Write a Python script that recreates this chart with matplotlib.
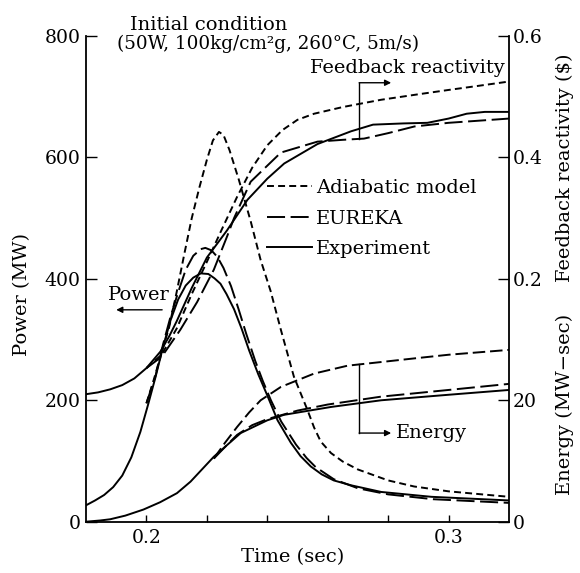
import matplotlib
matplotlib.use("Agg")
import matplotlib.pyplot as plt

plt.rcParams["font.family"] = ["DejaVu Serif", "DejaVu Sans"]
plt.rcParams["lines.scale_dashes"] = False

# ---- power (MW) ----
exp_power_t = [0.180, 0.183, 0.186, 0.189, 0.192, 0.195, 0.198, 0.2005, 0.203, 0.2055,
               0.208, 0.2105, 0.213, 0.2155, 0.218, 0.2205, 0.2225, 0.2245, 0.2265, 0.229,
               0.2315, 0.234, 0.237, 0.240, 0.2434, 0.2478, 0.251, 0.2544, 0.258, 0.262,
               0.2677, 0.2777, 0.2943, 0.320]
exp_power = [27, 35, 44, 57, 76, 106, 148, 192, 238, 288,
             332, 366, 389, 402, 409, 408, 401, 392, 375, 350,
             318, 282, 243, 208, 167, 130, 108, 91, 78, 68,
             60, 49, 41, 35]

eur_power_t = [0.200, 0.203, 0.2055, 0.208, 0.2105, 0.213, 0.2155, 0.218, 0.2195, 0.2215,
               0.2235, 0.2255, 0.228, 0.2305, 0.233, 0.236, 0.2385, 0.2412, 0.2446, 0.2495,
               0.253, 0.256, 0.262, 0.270, 0.280, 0.295, 0.320]
eur_power = [195, 240, 292, 338, 378, 415, 438, 449, 451, 447,
             436, 418, 388, 350, 310, 265, 232, 200, 165, 127,
             105, 90, 70, 55, 45, 37, 31]

adi_power_t = [0.200, 0.2025, 0.205, 0.2075, 0.210, 0.2125, 0.215, 0.2175, 0.220, 0.222,
               0.224, 0.2255, 0.2275, 0.2306, 0.2345, 0.2378, 0.2411, 0.2445, 0.2488, 0.2533,
               0.2555, 0.2577, 0.2611, 0.265, 0.270, 0.280, 0.2886, 0.300, 0.320]
adi_power = [195, 235, 278, 320, 378, 440, 500, 550, 596, 628,
             642, 637, 612, 563, 495, 431, 380, 316, 239, 184,
             155, 132, 113, 99, 86, 68, 58, 50, 41]

# ---- feedback reactivity ($) ----
exp_react_t = [0.180, 0.184, 0.188, 0.192, 0.196, 0.200, 0.2046, 0.2075, 0.210, 0.215,
               0.220, 0.2267, 0.2334, 0.240, 0.2456, 0.2511, 0.2566, 0.2677, 0.275, 0.285,
               0.293, 0.300, 0.306, 0.312, 0.320]
exp_react = [0.010, 0.013, 0.018, 0.025, 0.036, 0.053, 0.080, 0.105, 0.130, 0.185,
             0.235, 0.280, 0.330, 0.365, 0.390, 0.406, 0.422, 0.443, 0.454, 0.456,
             0.457, 0.464, 0.472, 0.475, 0.475]

eur_react_t = [0.200, 0.2051, 0.2112, 0.2168, 0.2223, 0.2267, 0.229, 0.2345, 0.2445, 0.2566,
               0.265, 0.272, 0.280, 0.2887, 0.300, 0.320]
eur_react = [0.053, 0.072, 0.116, 0.162, 0.215, 0.270, 0.300, 0.360, 0.408, 0.426,
             0.429, 0.431, 0.440, 0.451, 0.457, 0.464]

adi_react_t = [0.200, 0.205, 0.210, 0.215, 0.220, 0.225, 0.230, 0.235, 0.240, 0.245,
               0.250, 0.2555, 0.265, 0.2777, 0.290, 0.2998, 0.310, 0.320]
adi_react = [0.053, 0.075, 0.118, 0.175, 0.228, 0.282, 0.335, 0.383, 0.420, 0.445,
             0.462, 0.472, 0.483, 0.495, 0.504, 0.511, 0.518, 0.525]

# ---- energy (MW-sec) ----
exp_energy_t = [0.180, 0.1847, 0.188, 0.193, 0.199, 0.2045, 0.2101, 0.2146, 0.2223, 0.2312,
                0.240, 0.2455, 0.2611, 0.2777, 0.2998, 0.320]
exp_energy = [0.0, 0.2, 0.4, 1.0, 2.0, 3.2, 4.7, 6.6, 10.7, 14.6,
              16.7, 17.6, 18.9, 20.0, 20.9, 21.7]

eur_energy_t = [0.2223, 0.226, 0.230, 0.235, 0.240, 0.250, 0.260, 0.2777, 0.300, 0.320]
eur_energy = [10.4, 12.3, 14.3, 15.9, 16.9, 18.3, 19.3, 20.6, 21.7, 22.7]

adi_energy_t = [0.2223, 0.226, 0.230, 0.234, 0.2378, 0.2445, 0.2555, 0.2666, 0.2777, 0.2887,
                0.300, 0.320]
adi_energy = [10.4, 13.0, 15.6, 18.0, 20.0, 22.2, 24.4, 25.7, 26.3, 26.9, 27.5, 28.3]

LW = 1.4
adi_style = dict(color="black", lw=LW, ls=(0, (5, 3)))
eur_style = dict(color="black", lw=LW, ls=(0, (13, 4)))
exp_style = dict(color="black", lw=LW, ls="-")

W, H = 580, 573
fig = plt.figure(figsize=(W / 100, H / 100), dpi=100)
ax = fig.add_axes([86 / W, 1 - 521.7 / H, (509 - 86) / W, (521.7 - 36) / H])

# reactivity and energy share the right-hand spine
ax_r = ax.twinx()
ax_e = ax.twinx()

ax.set_xlim(0.18, 0.32)
ax.set_ylim(0, 800)
ax_r.set_ylim(-0.2, 0.6)
ax_e.set_ylim(0, 80)

l_adi, = ax.plot(adi_power_t, adi_power, label="Adiabatic model", **adi_style)
l_eur, = ax.plot(eur_power_t, eur_power, label="EUREKA", **eur_style)
l_exp, = ax.plot(exp_power_t, exp_power, label="Experiment", **exp_style)

ax_r.plot(adi_react_t, adi_react, **adi_style)
ax_r.plot(eur_react_t, eur_react, **eur_style)
ax_r.plot(exp_react_t, exp_react, **exp_style)

ax_e.plot(adi_energy_t, adi_energy, color="black", lw=LW, ls=(0, (9, 3.5)))
ax_e.plot(eur_energy_t, eur_energy, **eur_style)
ax_e.plot(exp_energy_t, exp_energy, **exp_style)

# spines / ticks
ax.spines["top"].set_visible(False)
for a in (ax_r, ax_e):
    for s in a.spines.values():
        s.set_visible(False)
for s in ("left", "bottom", "right"):
    ax.spines[s].set_linewidth(1.3)

ax.set_xticks([0.2, 0.3])
ax.set_xticklabels(["0.2", "0.3"])
ax.set_xticks([0.22, 0.24, 0.26, 0.28], minor=True)
ax.set_yticks([0, 200, 400, 600, 800])
ax.tick_params(axis="y", direction="in", length=8, width=1, labelsize=13.5, pad=4,
               right=False)
ax.tick_params(axis="x", which="both", direction="in", length=5, width=1, labelsize=13.5,
               pad=5)

ax_r.set_yticks([0.2, 0.4, 0.6])
ax_r.set_yticklabels(["0.2", "0.4", "0.6"])
ax_e.set_yticks([0, 20])
ax_e.set_yticklabels(["0", "20"])
for a in (ax_r, ax_e):
    a.tick_params(axis="y", direction="in", length=8, width=1, labelsize=13.5, pad=3)

# axis titles
fig.text(22 / W, 1 - 295 / H, "Power (MW)", rotation=90, ha="center", va="center",
         fontsize=14)
fig.text(565 / W, 1 - 168 / H, "Feedback reactivity ($)", rotation=90, ha="center",
         va="center", fontsize=14, parse_math=False)
fig.text(565 / W, 1 - 404 / H, "Energy (MW\u2212sec)", rotation=90, ha="center",
         va="center", fontsize=14)
fig.text(293 / W, 1 - 557 / H, "Time (sec)", ha="center", va="center", fontsize=14)

# initial condition header
fig.text(130 / W, 1 - 30 / H, "Initial condition", ha="left", va="baseline", fontsize=14)
fig.text(117 / W, 1 - 49 / H, "(50W, 100kg/cm\u00b2g, 260\u00b0C, 5m/s)", ha="left",
         va="baseline", fontsize=13.2)

# legend
ax.legend(handles=[l_adi, l_eur, l_exp], loc="upper left",
          bbox_to_anchor=(267 / W, 1 - 179 / H), bbox_transform=fig.transFigure,
          frameon=False, fontsize=14, handlelength=2.3, handletextpad=0.2,
          labelspacing=0.65, borderpad=0, borderaxespad=0)

arrow = dict(arrowstyle="-|>", color="black", lw=1.0, mutation_scale=9,
             shrinkA=0, shrinkB=0)

# power marker
ax.annotate("", xy=(0.190, 349), xytext=(0.2052, 349), arrowprops=arrow)
ax.text(0.1976, 373, "Power", ha="center", va="center", fontsize=14)

# feedback reactivity marker
ax_r.plot([0.2704, 0.2704], [0.430, 0.523], color="black", lw=1.0)
ax_r.annotate("", xy=(0.281, 0.523), xytext=(0.2704, 0.523), arrowprops=arrow)
ax_r.text(0.3185, 0.547, "Feedback reactivity", ha="right", va="center", fontsize=14)

# energy marker
ax_e.plot([0.2704, 0.2704], [25.9, 14.6], color="black", lw=1.0)
ax_e.annotate("", xy=(0.281, 14.6), xytext=(0.2704, 14.6), arrowprops=arrow)
ax_e.text(0.2825, 14.6, "Energy", ha="left", va="center", fontsize=14)

fig.savefig("out.png", dpi=100)
